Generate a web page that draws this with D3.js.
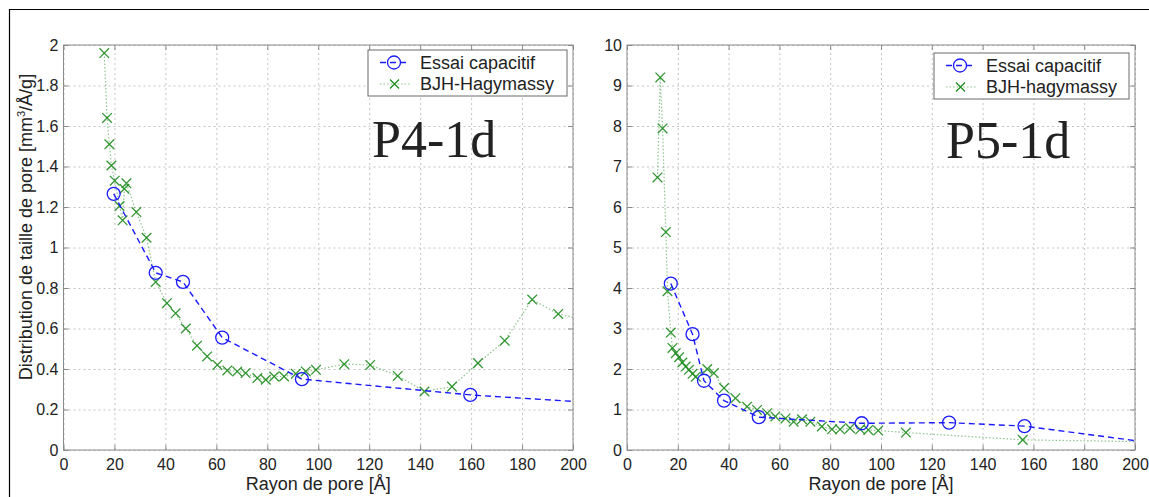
<!DOCTYPE html>
<html>
<head>
<meta charset="utf-8">
<script src="https://cdn.jsdelivr.net/npm/d3@7/dist/d3.min.js"></script>
<style>
  html, body { margin: 0; padding: 0; background: #fff; }
  svg { display: block; }
  text { font-family: "Liberation Sans", Arial, Helvetica, sans-serif; fill: #222; }
</style>
</head>
<body>
<svg id="chart" width="1149" height="497"></svg>
<script>
// ---------- data ----------
const xTicks = [0, 20, 40, 60, 80, 100, 120, 140, 160, 180, 200];
const yTicksLeft = [0, 0.2, 0.4, 0.6, 0.8, 1, 1.2, 1.4, 1.6, 1.8, 2];
const yTicksRight = [0, 1, 2, 3, 4, 5, 6, 7, 8, 9, 10];

// P4-1d : Essai capacitif
const p4CapX = [19.7, 36.2, 46.9, 62.3, 93.6, 159.7, 300];
const p4CapY = [1.265, 0.875, 0.83, 0.555, 0.35, 0.272, 0.16];
// P4-1d : BJH-Hagymassy
const p4BjhX = [16, 17.1, 18, 18.8, 20.1, 22, 23.2, 23.9, 24.7, 28.6, 32.6, 36.2, 40.6, 44, 48, 52.4, 56.4, 60.4, 64.3, 68.2, 71.5, 76.1, 79.4, 82.7, 86.6, 91.2, 95.1, 99.1, 110.2, 120.4, 131.2, 141.7, 152.5, 162.7, 173.2, 184, 194.2, 205];
const p4BjhY = [1.96, 1.64, 1.51, 1.405, 1.33, 1.205, 1.134, 1.29, 1.317, 1.175, 1.048, 0.83, 0.725, 0.675, 0.6, 0.515, 0.462, 0.42, 0.393, 0.388, 0.38, 0.355, 0.347, 0.363, 0.363, 0.376, 0.388, 0.396, 0.424, 0.42, 0.366, 0.289, 0.313, 0.429, 0.54, 0.743, 0.672, 0.64];

// P5-1d : Essai capacitif
const p5CapX = [17.25, 25.8, 30.3, 38.2, 51.9, 92.4, 126.8, 156.5, 210];
const p5CapY = [4.11, 2.86, 1.71, 1.22, 0.81, 0.66, 0.675, 0.59, 0.15];
// P5-1d : BJH-hagymassy
const p5BjhX = [12, 13.1, 14, 15.3, 15.95, 17.25, 17.9, 19.2, 20.5, 21.8, 23.1, 24.4, 25.8, 27.1, 31.6, 34.2, 38.2, 42.7, 47.3, 51.2, 55.2, 58.4, 62.4, 65.6, 68.9, 72.2, 76.7, 80.7, 83.9, 87.8, 91.8, 95, 98.9, 109.8, 155.8, 220];
const p5BjhY = [6.73, 9.2, 7.94, 5.38, 3.92, 2.90, 2.52, 2.39, 2.29, 2.16, 2.06, 1.98, 1.88, 1.81, 2.0, 1.90, 1.53, 1.28, 1.07, 0.99, 0.91, 0.83, 0.78, 0.70, 0.76, 0.70, 0.58, 0.51, 0.51, 0.54, 0.51, 0.495, 0.48, 0.43, 0.25, 0.19];

const xLabel = "Rayon de pore [Å]";
const yLabelParts = ["Distribution de taille de pore [mm", "3", "/Å/g]"];

// ---------- drawing ----------
const svg = d3.select("#chart");
const BLUE = "#1a1aff";
const GREEN = "#1e8c1e";
const FS = 16;     // tick labels
const FL = 18;     // axis labels & legend

// outer frame
svg.append("line").attr("x1", 9).attr("x2", 1149).attr("y1", 9.5).attr("y2", 9.5).attr("stroke", "#000").attr("stroke-width", 1.2);
svg.append("line").attr("x1", 9.5).attr("x2", 9.5).attr("y1", 9).attr("y2", 497).attr("stroke", "#000").attr("stroke-width", 1.2);

function panel(cfg) {
  const x = d3.scaleLinear().domain([0, 200]).range([cfg.x0, cfg.x1]);
  const y = d3.scaleLinear().domain([0, cfg.yMax]).range([cfg.yBot, cfg.yTop]);
  const g = svg.append("g");
  const W = cfg.x1 - cfg.x0, H = cfg.yBot - cfg.yTop;

  g.append("rect").attr("x", cfg.x0).attr("y", cfg.yTop).attr("width", W).attr("height", H).attr("fill", "#fff");

  // grid
  const gx = g.append("g").attr("transform", `translate(0,${cfg.yBot})`)
    .call(d3.axisBottom(x).tickValues(xTicks).tickSize(-H).tickFormat(""));
  const gy = g.append("g").attr("transform", `translate(${cfg.x0},0)`)
    .call(d3.axisLeft(y).tickValues(cfg.yTicks).tickSize(-W).tickFormat(""));
  [gx, gy].forEach(a => {
    a.select(".domain").remove();
    a.selectAll(".tick line").attr("stroke", "#c4c4c4").attr("stroke-width", 1).attr("stroke-dasharray", "2,3");
  });

  // clip
  const cid = "clip" + cfg.id;
  svg.append("clipPath").attr("id", cid).append("rect")
    .attr("x", cfg.x0).attr("y", cfg.yTop - 10).attr("width", W).attr("height", H + 10);

  const line = d3.line().x(d => x(d[0])).y(d => y(d[1]));
  const cap = cfg.capX.map((v, i) => [v, cfg.capY[i]]);
  const bjh = cfg.bjhX.map((v, i) => [v, cfg.bjhY[i]]);

  const plot = g.append("g").attr("clip-path", `url(#${cid})`);
  // BJH dotted
  plot.append("path").datum(bjh).attr("d", line).attr("fill", "none")
    .attr("stroke", GREEN).attr("stroke-opacity", 0.5).attr("stroke-width", 1.2).attr("stroke-dasharray", "1.5,2");
  plot.selectAll(".xm").data(bjh.filter(d => d[0] <= 200)).enter().append("path")
    .attr("d", d => { const cx = x(d[0]), cy = y(d[1]), s = 4.8; return `M${cx - s},${cy - s}L${cx + s},${cy + s}M${cx - s},${cy + s}L${cx + s},${cy - s}`; })
    .attr("stroke", GREEN).attr("stroke-width", 1.3).attr("fill", "none").attr("stroke-opacity", 0.9);
  // capacitif dashed
  plot.append("path").datum(cap).attr("d", line).attr("fill", "none")
    .attr("stroke", BLUE).attr("stroke-width", 1.4).attr("stroke-dasharray", "6,4");
  plot.selectAll(".cm").data(cap.filter(d => d[0] <= 200)).enter().append("circle")
    .attr("cx", d => x(d[0])).attr("cy", d => y(d[1])).attr("r", 6.5)
    .attr("fill", "none").attr("stroke", BLUE).attr("stroke-width", 1.3);

  // box
  g.append("rect").attr("x", cfg.x0).attr("y", cfg.yTop).attr("width", W).attr("height", H)
    .attr("fill", "none").attr("stroke", "#8a8a8a").attr("stroke-width", 1);

  // axes with inward ticks
  const ab = g.append("g").attr("transform", `translate(0,${cfg.yBot})`)
    .call(d3.axisBottom(x).tickValues(xTicks).tickSize(-5).tickPadding(9));
  const at = g.append("g").attr("transform", `translate(0,${cfg.yTop})`)
    .call(d3.axisTop(x).tickValues(xTicks).tickSize(-5).tickFormat(""));
  const al = g.append("g").attr("transform", `translate(${cfg.x0},0)`)
    .call(d3.axisLeft(y).tickValues(cfg.yTicks).tickSize(-5).tickPadding(5).tickFormat(d3.format("~g")));
  const ar = g.append("g").attr("transform", `translate(${cfg.x1},0)`)
    .call(d3.axisRight(y).tickValues(cfg.yTicks).tickSize(-5).tickFormat(""));
  [ab, at, al, ar].forEach(a => {
    a.select(".domain").remove();
    a.selectAll(".tick line").attr("stroke", "#8a8a8a");
    a.selectAll("text").attr("font-size", FS).attr("fill", "#222")
      .style("font-family", '"Liberation Sans", Arial, sans-serif');
  });

  // x label
  g.append("text").attr("x", (cfg.x0 + cfg.x1) / 2).attr("y", 490).attr("text-anchor", "middle")
    .attr("font-size", FL).text(xLabel);
  if (cfg.showY) {
    const t = g.append("text").attr("transform", `translate(32,${227}) rotate(-90)`)
      .attr("text-anchor", "middle").attr("font-size", FL);
    t.append("tspan").text(yLabelParts[0]);
    t.append("tspan").attr("font-size", 11).attr("dy", -7).text(yLabelParts[1]);
    t.append("tspan").attr("dy", 7).text(yLabelParts[2]);
  }

  // big title
  g.append("text").attr("x", cfg.titleX).attr("y", cfg.titleY)
    .style("font-family", '"Liberation Serif", "Times New Roman", serif')
    .attr("font-size", 52).attr("fill", "#000").text(cfg.title);

  // legend
  const L = cfg.leg;
  const lg = g.append("g");
  lg.append("rect").attr("x", L.x).attr("y", L.y).attr("width", L.w).attr("height", 46)
    .attr("fill", "#fff").attr("stroke", "#6a6a6a").attr("stroke-width", 1);
  const r1 = L.y + 12.5, r2 = L.y + 34;
  lg.append("line").attr("x1", L.x + 12).attr("x2", L.x + 42).attr("y1", r1).attr("y2", r1)
    .attr("stroke", BLUE).attr("stroke-width", 1.4).attr("stroke-dasharray", "6,4");
  lg.append("circle").attr("cx", L.x + 26).attr("cy", r1).attr("r", 6.5).attr("fill", "none").attr("stroke", BLUE).attr("stroke-width", 1.3);
  lg.append("line").attr("x1", L.x + 12).attr("x2", L.x + 42).attr("y1", r2).attr("y2", r2)
    .attr("stroke", GREEN).attr("stroke-opacity", 0.5).attr("stroke-width", 1.2).attr("stroke-dasharray", "1.5,2");
  lg.append("path").attr("d", `M${L.x + 22},${r2 - 4.5}L${L.x + 31},${r2 + 4.5}M${L.x + 22},${r2 + 4.5}L${L.x + 31},${r2 - 4.5}`)
    .attr("stroke", GREEN).attr("stroke-width", 1.3);
  lg.append("text").attr("x", L.x + 52).attr("y", r1 + 6).attr("font-size", FL).text(cfg.names[0]);
  lg.append("text").attr("x", L.x + 52).attr("y", r2 + 6).attr("font-size", FL).text(cfg.names[1]);
}

panel({
  id: "L", x0: 63.5, x1: 573, yTop: 45, yBot: 450, yMax: 2, yTicks: yTicksLeft,
  capX: p4CapX, capY: p4CapY, bjhX: p4BjhX, bjhY: p4BjhY,
  showY: true, title: "P4-1d", titleX: 372, titleY: 157,
  leg: { x: 368, y: 50, w: 199 }, names: ["Essai capacitif", "BJH-Hagymassy"]
});
panel({
  id: "R", x0: 627, x1: 1135, yTop: 45, yBot: 450, yMax: 10, yTicks: yTicksRight,
  capX: p5CapX, capY: p5CapY, bjhX: p5BjhX, bjhY: p5BjhY,
  showY: false, title: "P5-1d", titleX: 946, titleY: 158,
  leg: { x: 934, y: 53, w: 195 }, names: ["Essai capacitif", "BJH-hagymassy"]
});
</script>
</body>
</html>
